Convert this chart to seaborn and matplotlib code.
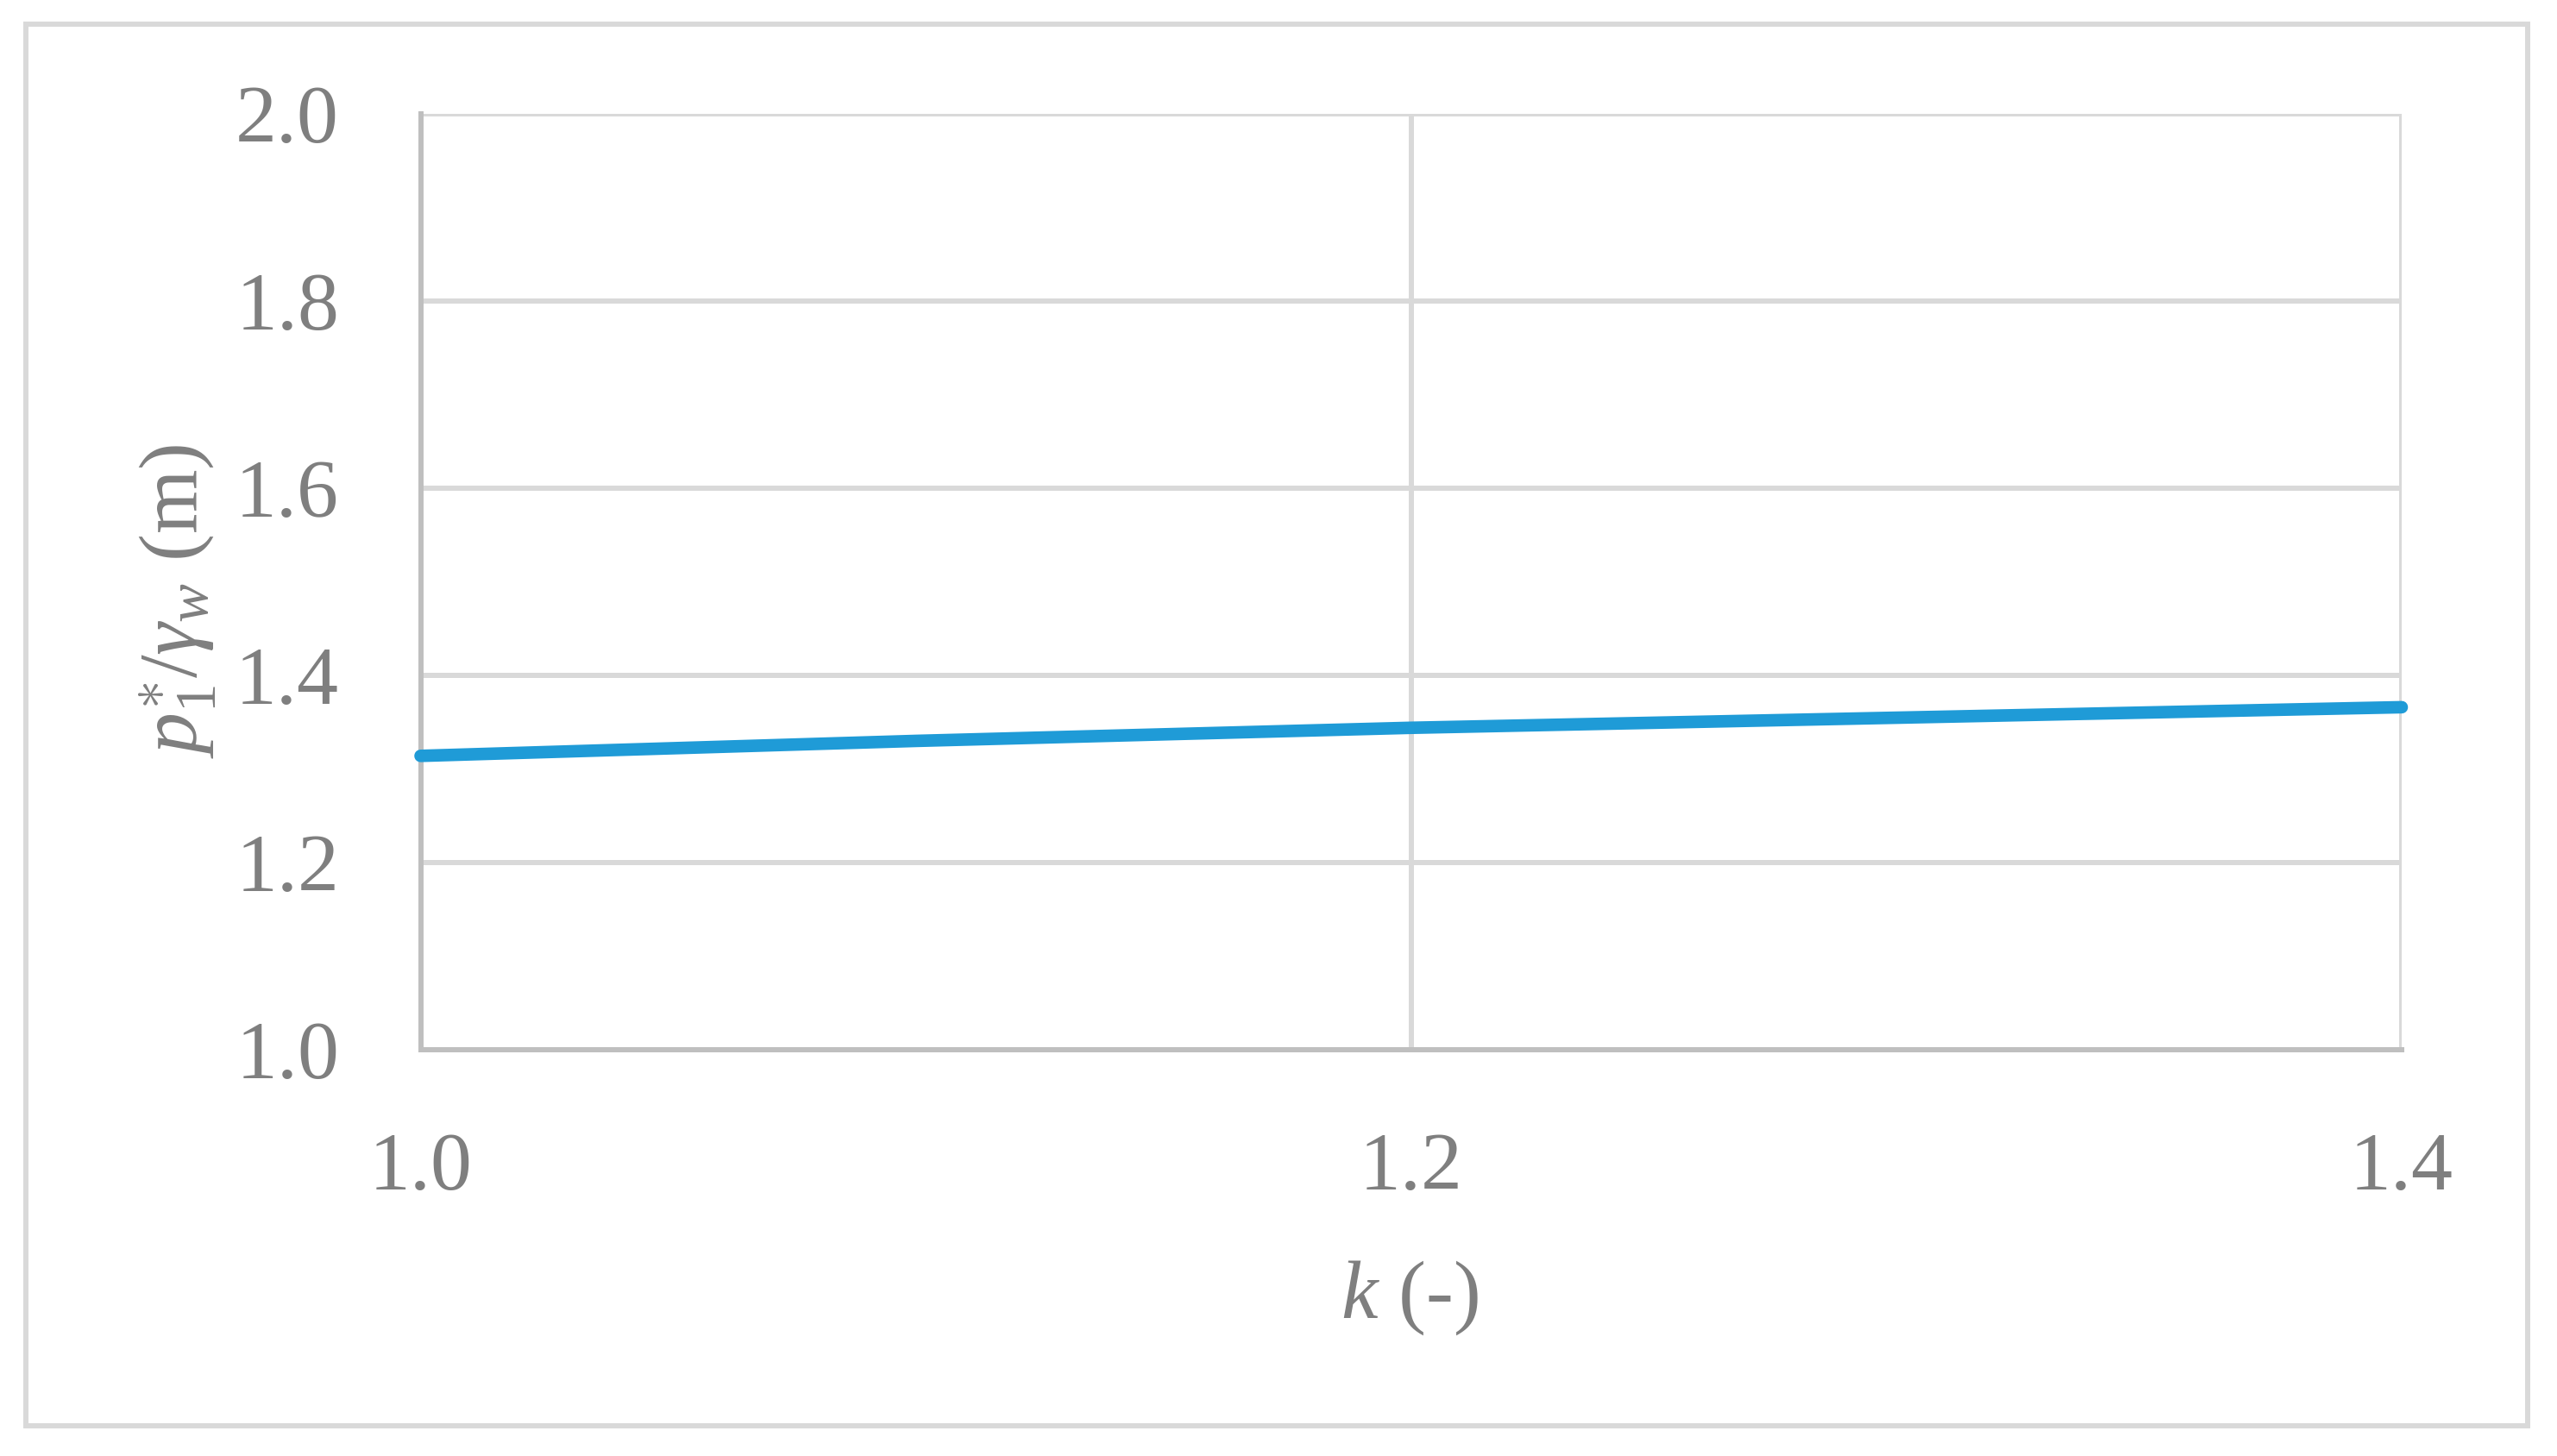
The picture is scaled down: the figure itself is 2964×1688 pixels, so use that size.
import matplotlib
matplotlib.use("Agg")
import matplotlib.pyplot as plt
import seaborn as sns
import pandas as pd
from matplotlib.patches import Rectangle

# data
k_values = [1.0, 1.1, 1.2, 1.3, 1.4]
p_values = [1.314, 1.330, 1.344, 1.355, 1.366]
x_ticks = [1.0, 1.2, 1.4]
y_ticks = [1.0, 1.2, 1.4, 1.6, 1.8, 2.0]

sns.set_theme(style="white")
plt.rcParams['font.family'] = ['Liberation Serif', 'DejaVu Serif']
plt.rcParams['mathtext.fontset'] = 'custom'
plt.rcParams['mathtext.rm'] = 'Liberation Serif'
plt.rcParams['mathtext.it'] = 'Liberation Serif:italic'
plt.rcParams['mathtext.bf'] = 'Liberation Serif:bold'

W, H = 2964, 1688
fig = plt.figure(figsize=(W / 100, H / 100), dpi=100)
fig.patch.set_facecolor('white')

# outer frame
fig.patches.append(Rectangle((30 / W, 1 - 1653 / H), 2900 / W, 1625 / H,
                             transform=fig.transFigure, fill=False,
                             edgecolor='#d9d9d9', linewidth=4.3))

ax = fig.add_axes([487.5 / W, 1 - 1217 / H, (2784 - 487.5) / W, (1217 - 132) / H])
df = pd.DataFrame({'k': k_values, 'p': p_values})
sns.lineplot(data=df, x='k', y='p', ax=ax, color='#1f9bd7', linewidth=10.5,
             solid_capstyle='round', zorder=5)
for l in ax.lines:
    l.set_clip_on(False)

ax.set_xlim(1.0, 1.4)
ax.set_ylim(1.0, 2.0)
ax.set_xticks(x_ticks)
ax.set_yticks(y_ticks)
ax.set_xticklabels([f"{v:.1f}" for v in x_ticks])
ax.set_yticklabels([f"{v:.1f}" for v in y_ticks])
ax.tick_params(axis='both', length=0, labelsize=69, colors='#7f7f7f')
ax.tick_params(axis='x', pad=69)
ax.tick_params(axis='y', pad=68)
ax.grid(True, color='#d9d9d9', linewidth=4.3)
ax.set_axisbelow(True)
for s in ['top', 'right']:
    ax.spines[s].set_visible(False)
for s in ['left', 'bottom']:
    ax.spines[s].set_color('#bfbfbf')
    ax.spines[s].set_linewidth(4.3)
    ax.spines[s].set_zorder(1)
ax.set_xlabel('')
ax.set_ylabel('')

fig.text(1634 / W, 1 - 1505 / H, r'$k$ (-)', ha='center', va='center',
         fontsize=69, color='#7f7f7f')
fig.text(205 / W, 1 - 697 / H, r'$p_{\mathit{1}}^{\ast}/\gamma_w$ (m)', ha='center', va='center',
         rotation=90, fontsize=69, color='#7f7f7f')

fig.savefig('out.png', dpi=100, facecolor='white')
